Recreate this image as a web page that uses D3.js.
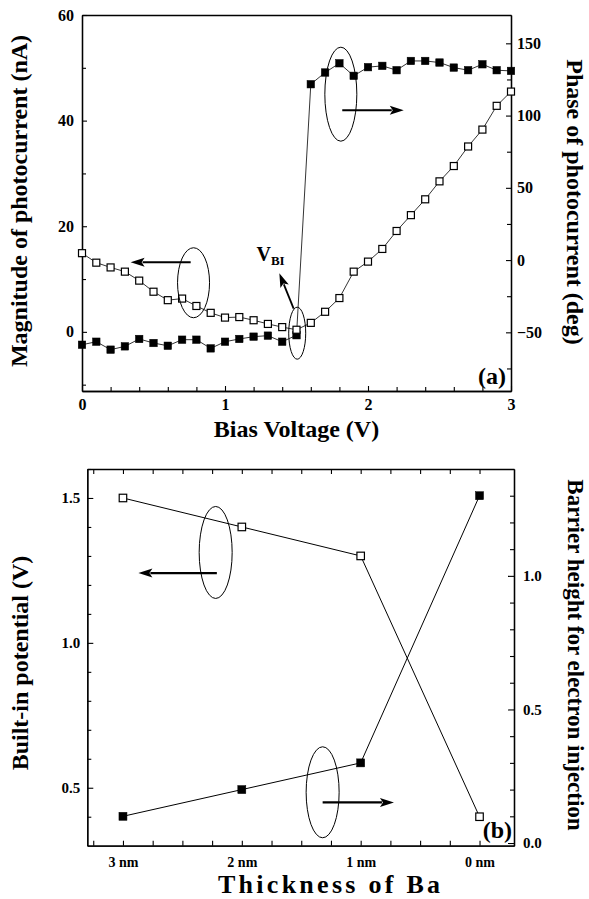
<!DOCTYPE html>
<html>
<head>
<meta charset="utf-8">
<title>Photocurrent</title>
<script src="https://d3js.org/d3.v7.min.js"></script>
<style>
  html, body { margin: 0; padding: 0; background: #fff; }
  svg { display: block; }
  text { font-family: 'Liberation Serif', 'Times New Roman', serif; font-weight: bold; fill: #000; }
  .axis path, .axis line { stroke: #000; }
  .axis path { stroke-width: 1.3; }
  .axis line { stroke-width: 1.1; }
</style>
</head>
<body>
<script>
// ---- panel (a) data ----
var biasV = [0.0, 0.1, 0.2, 0.3, 0.4, 0.5, 0.6, 0.7, 0.8, 0.9, 1.0, 1.1, 1.2, 1.3, 1.4, 1.5,
             1.6, 1.7, 1.8, 1.9, 2.0, 2.1, 2.2, 2.3, 2.4, 2.5, 2.6, 2.7, 2.8, 2.9, 3.0];
var magnitude = [14.9, 13.1, 12.2, 11.4, 9.7, 7.6, 6.0, 6.3, 4.9, 3.6, 2.7, 2.8, 2.2, 1.5, 0.9, 0.4,
                 1.7, 3.8, 6.4, 11.4, 13.3, 15.7, 19.1, 22.1, 25.1, 28.5, 31.4, 35.1, 38.3, 42.8, 45.5];
var phase = [-58.6, -56.5, -62, -59.7, -54.6, -57.4, -59.3, -55.1, -55.1, -61.1, -56.5, -54.6, -53, -52.3, -56.5, -52,
             121.7, 129.8, 136.2, 127.5, 133.5, 134.4, 131.4, 137.8, 137.8, 136.7, 133.2, 131.4, 135.5, 131.4, 130.9];
var magTicks = [0, 20, 40, 60];
var phaseTicks = [-50, 0, 50, 100, 150];
var biasTicks = [0, 1, 2, 3];

// ---- panel (b) data ----
var thickness = [3, 2, 1, 0];
var thicknessLabels = ["3 nm", "2 nm", "1 nm", "0 nm"];
var builtIn = [1.5, 1.4, 1.3, 0.4];
var barrier = [0.1, 0.2, 0.3, 1.3];
var builtInTicks = [0.5, 1.0, 1.5];
var barrierTicks = [0.0, 0.5, 1.0];

var w = 589, h = 899;
var svg = d3.select("body").append("svg").attr("width", w).attr("height", h);

function sq(g, data, xs, ys, filled, size) {
  g.selectAll(null).data(data).enter().append("rect")
    .attr("x", d => xs(d[0]) - size / 2)
    .attr("y", d => ys(d[1]) - size / 2)
    .attr("width", size).attr("height", size)
    .attr("fill", filled ? "#000" : "#fff")
    .attr("stroke", "#000").attr("stroke-width", filled ? 0.5 : 1.2);
}

function arrow(g, x0, y0, x1, y1, lw) {
  var dx = x1 - x0, dy = y1 - y0, L = Math.sqrt(dx * dx + dy * dy);
  var ux = dx / L, uy = dy / L, hl = 14, hw = 4.5;
  var bx = x1 - ux * hl, by = y1 - uy * hl;
  g.append("line").attr("x1", x0).attr("y1", y0).attr("x2", bx + ux * 2).attr("y2", by + uy * 2)
    .attr("stroke", "#000").attr("stroke-width", lw);
  g.append("path")
    .attr("d", "M" + x1 + "," + y1 + "L" + (bx - uy * hw) + "," + (by + ux * hw) +
      "L" + (bx + ux * 3) + "," + (by + uy * 3) + "L" + (bx + uy * hw) + "," + (by - ux * hw) + "Z")
    .attr("fill", "#000");
}

function ellipse(g, cx, cy, rx, ry) {
  g.append("ellipse").attr("cx", cx).attr("cy", cy).attr("rx", rx).attr("ry", ry)
    .attr("fill", "none").attr("stroke", "#000").attr("stroke-width", 1);
}

// ================= panel (a) =================
var xA = d3.scaleLinear().domain([0, 3]).range([82, 511]);
var yMag = d3.scaleLinear().domain([-11.2, 60]).range([391, 15]);
var yPh = d3.scaleLinear().domain([-90.6, 169.6]).range([391, 15]);

var gA = svg.append("g");

// minor ticks
gA.append("g").attr("class", "axis").attr("transform", "translate(0,391)")
  .call(d3.axisBottom(xA).tickValues([0.2, 0.4, 0.6, 0.8, 1.2, 1.4, 1.6, 1.8, 2.2, 2.4, 2.6, 2.8])
    .tickSizeInner(-4).tickSizeOuter(0).tickFormat(""));
gA.append("g").attr("class", "axis").attr("transform", "translate(82,0)")
  .call(d3.axisLeft(yMag).tickValues([-10, 10, 30, 50]).tickSizeInner(-4).tickSizeOuter(0).tickFormat(""));
gA.append("g").attr("class", "axis").attr("transform", "translate(511,0)")
  .call(d3.axisRight(yPh).tickValues([-75, -25, 25, 75, 125]).tickSizeInner(-4).tickSizeOuter(0).tickFormat(""));

// major axes
gA.append("g").attr("class", "axis").attr("transform", "translate(0,391)")
  .call(d3.axisBottom(xA).tickValues(biasTicks).tickSizeInner(-5).tickSizeOuter(0).tickPadding(8).tickFormat(d3.format("d")))
  .selectAll("text").style("font-size", "16px");
gA.append("g").attr("class", "axis").attr("transform", "translate(0,15)")
  .call(d3.axisTop(xA).tickValues([]).tickSizeOuter(0));
gA.append("g").attr("class", "axis").attr("transform", "translate(82,0)")
  .call(d3.axisLeft(yMag).tickValues(magTicks).tickSizeInner(-5).tickSizeOuter(0).tickPadding(8))
  .selectAll("text").style("font-size", "16px");
gA.append("g").attr("class", "axis").attr("transform", "translate(511,0)")
  .call(d3.axisRight(yPh).tickValues(phaseTicks).tickSizeInner(-5).tickSizeOuter(0).tickPadding(6))
  .selectAll("text").style("font-size", "16px");
gA.selectAll(".axis text").attr("font-family", null);

var magPts = biasV.map((v, i) => [v, magnitude[i]]);
var phPts = biasV.map((v, i) => [v, phase[i]]);

gA.append("path").datum(magPts)
  .attr("d", d3.line().x(d => xA(d[0])).y(d => yMag(d[1])))
  .attr("fill", "none").attr("stroke", "#000").attr("stroke-width", 0.8);
gA.append("path").datum(phPts)
  .attr("d", d3.line().x(d => xA(d[0])).y(d => yPh(d[1])))
  .attr("fill", "none").attr("stroke", "#000").attr("stroke-width", 0.8);
sq(gA, phPts, xA, yPh, true, 7.5);
sq(gA, magPts, xA, yMag, false, 7);

// annotations (a)
ellipse(gA, xA(0.78), yMag(9.3), 16, 35);
arrow(gA, xA(0.76), yMag(13.2), xA(0.34), yMag(13.2), 2);
ellipse(gA, xA(1.81), yPh(114.8), 16, 47);
arrow(gA, xA(1.82), yPh(103.7), xA(2.25), yPh(103.7), 2);
ellipse(gA, xA(1.505), yMag(-0.25), 8.5, 26);
arrow(gA, xA(1.48), yMag(4.4), xA(1.38), yMag(11.1), 1.8);

var vbi = gA.append("text").attr("x", xA(1.22)).attr("y", yMag(13.4)).style("font-size", "20px");
vbi.append("tspan").text("V");
vbi.append("tspan").attr("dy", 4).style("font-size", "13px").text("BI");

gA.append("text").attr("x", 506).attr("y", 384).attr("text-anchor", "end")
  .style("font-size", "24px").text("(a)");

gA.append("text").attr("x", 296.5).attr("y", 437).attr("text-anchor", "middle")
  .style("font-size", "24px").text("Bias Voltage (V)");
gA.append("text").attr("transform", "translate(27,201) rotate(-90)").attr("text-anchor", "middle")
  .style("font-size", "24px").text("Magnitude of photocurrent (nA)");
gA.append("text").attr("transform", "translate(567,202) rotate(90)").attr("text-anchor", "middle")
  .style("font-size", "24px").text("Phase of photocurrent (deg)");

// ================= panel (b) =================
var xB = d3.scaleLinear().domain([3.3, -0.29]).range([87.3, 514]);
var yBI = d3.scaleLinear().domain([0.3, 1.6]).range([845.7, 469]);
var yBar = d3.scaleLinear().domain([-0.01, 1.4]).range([845.7, 469]);

var gB = svg.append("g");
var xbTicks = [3.25, 3, 2.75, 2.5, 2.25, 2, 1.75, 1.5, 1.25, 1, 0.75, 0.5, 0.25, 0];

gB.append("g").attr("class", "axis").attr("transform", "translate(0,845.7)")
  .call(d3.axisBottom(xB).tickValues(xbTicks).tickSizeInner(-5).tickSizeOuter(0).tickFormat(""));
gB.append("g").attr("class", "axis").attr("transform", "translate(0,469)")
  .call(d3.axisTop(xB).tickValues(xbTicks).tickSizeInner(-5).tickSizeOuter(0).tickFormat(""));
gB.append("g").attr("class", "axis").attr("transform", "translate(87.3,0)")
  .call(d3.axisLeft(yBI).tickValues([0.4, 0.6, 0.7, 0.8, 0.9, 1.1, 1.2, 1.3, 1.4, 1.6]).tickSizeInner(-4).tickSizeOuter(0).tickFormat(""));
gB.append("g").attr("class", "axis").attr("transform", "translate(514,0)")
  .call(d3.axisRight(yBar).tickValues([0.1, 0.2, 0.3, 0.4, 0.6, 0.7, 0.8, 0.9, 1.1, 1.2, 1.3]).tickSizeInner(-4).tickSizeOuter(0).tickFormat(""));

gB.append("g").attr("class", "axis").attr("transform", "translate(0,845.7)")
  .call(d3.axisBottom(xB).tickValues(thickness).tickSizeInner(0).tickSizeOuter(0).tickPadding(11)
    .tickFormat((d, i) => thicknessLabels[i]))
  .selectAll("text").style("font-size", "14px");
gB.append("g").attr("class", "axis").attr("transform", "translate(87.3,0)")
  .call(d3.axisLeft(yBI).tickValues(builtInTicks).tickSizeInner(-6).tickSizeOuter(0).tickPadding(7).tickFormat(d3.format(".1f")))
  .selectAll("text").style("font-size", "15px");
gB.append("g").attr("class", "axis").attr("transform", "translate(514,0)")
  .call(d3.axisRight(yBar).tickValues(barrierTicks).tickSizeInner(-6).tickSizeOuter(0).tickPadding(9).tickFormat(d3.format(".1f")))
  .selectAll("text").style("font-size", "15px");
gB.selectAll(".axis text").attr("font-family", null);

var biPts = thickness.map((t, i) => [t, builtIn[i]]);
var barPts = thickness.map((t, i) => [t, barrier[i]]);

gB.append("path").datum(biPts)
  .attr("d", d3.line().x(d => xB(d[0])).y(d => yBI(d[1])))
  .attr("fill", "none").attr("stroke", "#000").attr("stroke-width", 1);
gB.append("path").datum(barPts)
  .attr("d", d3.line().x(d => xB(d[0])).y(d => yBar(d[1])))
  .attr("fill", "none").attr("stroke", "#000").attr("stroke-width", 1);
sq(gB, biPts, xB, yBI, false, 7.5);
sq(gB, barPts, xB, yBar, true, 8);

// annotations (b)
ellipse(gB, xB(2.22), yBI(1.312), 16.5, 46);
arrow(gB, xB(2.21), yBI(1.241), xB(2.87), yBI(1.241), 2.3);
ellipse(gB, xB(1.32), yBar(0.19), 16.5, 45.5);
arrow(gB, xB(1.32), yBar(0.152), xB(0.72), yBar(0.152), 2.3);

gB.append("text").attr("x", 512).attr("y", 838).attr("text-anchor", "end")
  .style("font-size", "24px").text("(b)");

gB.append("text").attr("x", 329).attr("y", 893).attr("text-anchor", "middle")
  .attr("textLength", 222).attr("lengthAdjust", "spacing")
  .style("font-size", "26px").text("Thickness of Ba");
gB.append("text").attr("transform", "translate(28,663) rotate(-90)").attr("text-anchor", "middle")
  .style("font-size", "24px").text("Built-in potential (V)");
gB.append("text").attr("transform", "translate(568,655) rotate(90)").attr("text-anchor", "middle")
  .style("font-size", "23px").text("Barrier height for electron injection");
</script>
</body>
</html>
